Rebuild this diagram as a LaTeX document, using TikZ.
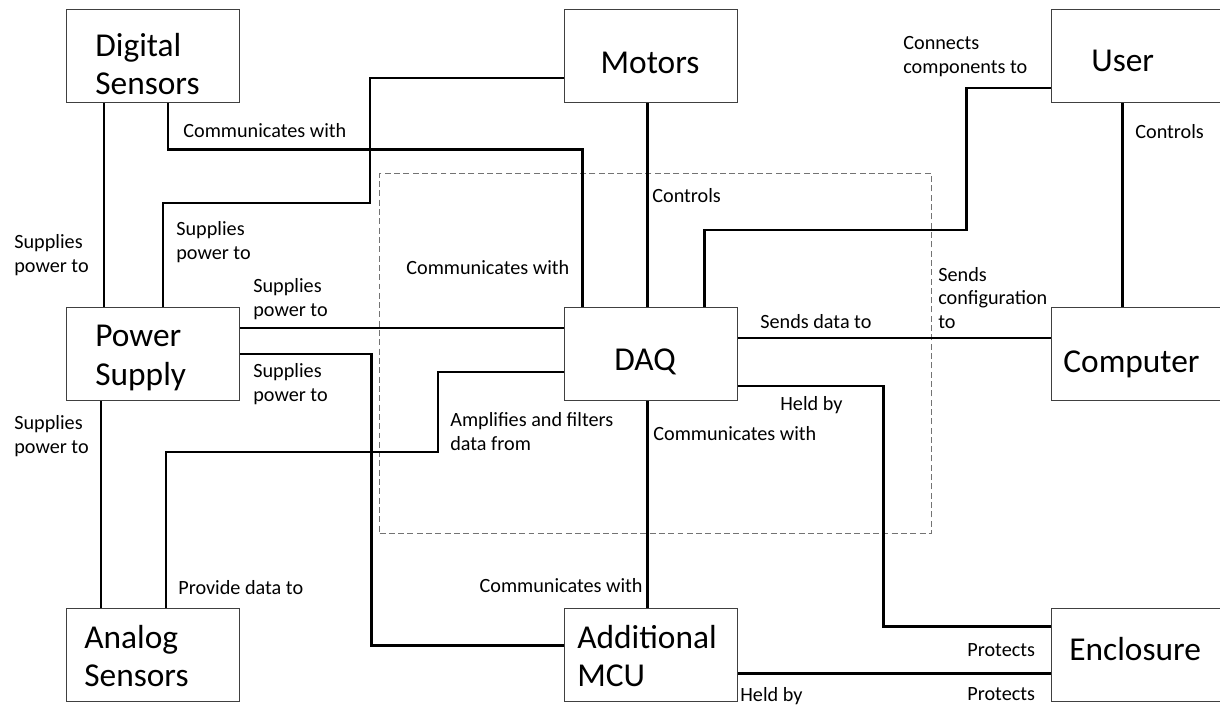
\documentclass[tikz,border=0pt]{standalone}
\usepackage{fontspec}
\setmainfont{Carlito}
\usetikzlibrary{calc}
\tikzset{
  box/.style={draw=black!75, line width=0.7pt, fill=white, anchor=north west,
    minimum width=3.46cm, minimum height=1.86cm, inner sep=0pt},
  boxtext/.style={font=\fontsize{19}{22}\selectfont, align=left, inner sep=0pt},
  lbl/.style={font=\fontsize{11.5}{13.6}\selectfont, align=left, inner sep=0pt, anchor=west},
  conn/.style={line width=1.7pt, black},
  group/.style={draw=black!55, line width=0.6pt, dash pattern=on 3.4pt off 1.9pt,
    anchor=north west, minimum width=11.04cm, minimum height=7.2cm, inner sep=0pt}
}
\begin{document}
\begin{tikzpicture}[x=0.02cm, y=-0.02cm]
\useasboundingbox (0,0) rectangle (1220,706);
\clip (0,0) rectangle (1220,706);
\fill[white] (0,0) rectangle (1220,706);

% dashed grouping frame around the DAQ
\node[group] (grp) at (379,173) {};

% component boxes
\node[box] (ds)   at (66,9)    {};
\node[box] (mot)  at (564,9)   {};
\node[box] (user) at (1051,9)  {};
\node[box] (ps)   at (66,307)  {};
\node[box] (daq)  at (564,307) {};
\node[box] (comp) at (1051,307){};
\node[box] (as)   at (66,608)  {};
\node[box] (mcu)  at (564,608) {};
\node[box] (enc)  at (1051,608){};

% box captions
\node[boxtext, anchor=west] (ds-t)   at (95,64)   {Digital\\Sensors};
\node[boxtext]              (mot-t)  at (650,63)  {Motors};
\node[boxtext, anchor=west] (user-t) at (1091,61) {User};
\node[boxtext, anchor=west] (ps-t)   at (95,358)  {Power\\Supply};
\node[boxtext]              (daq-t)  at (645,362) {DAQ};
\node[boxtext, anchor=west] (comp-t) at (1063,364){Computer};
\node[boxtext, anchor=west] (as-t)   at (84,656)  {Analog\\Sensors};
\node[boxtext, anchor=west] (mcu-t)  at (577,656) {Additional\\MCU};
\node[boxtext, anchor=west] (enc-t)  at (1069,649){Enclosure};

% connectors
\draw[conn] ($(ds.south west)+(38,0)$) -- ($(ps.north west)+(38,0)$);
\draw[conn] ($(ds.south west)+(102,0)$) -- ++(0,46) -| ($(daq.north west)+(18,0)$);
\draw[conn] ($(ps.north west)+(97,0)$) -- ++(0,-104) -- ++(207,0) |- ($(mot.north west)+(0,69)$);
\draw[conn] ($(ps.north east)+(0,21)$) -- ($(daq.north west)+(0,21)$);
\draw[conn] ($(ps.north east)+(0,47)$) -- ++(131,0) |- ($(mcu.north west)+(0,37)$);
\draw[conn] ($(ps.south west)+(35,0)$) -- ($(as.north west)+(35,0)$);
\draw[conn] ($(as.north west)+(100,0)$) -- ++(0,-156) -- ++(272,0) |- ($(daq.north west)+(0,65)$);
\draw[conn] ($(mot.south west)+(83,0)$) -- ($(daq.north west)+(83,0)$);
\draw[conn] ($(daq.north west)+(140,0)$) -- ++(0,-77) -- ++(262,0) |- ($(user.north west)+(0,79)$);
\draw[conn] ($(user.south west)+(71,0)$) -- ($(comp.north west)+(71,0)$);
\draw[conn] ($(daq.north east)+(0,31)$) -- ($(comp.north west)+(0,31)$);
\draw[conn] ($(daq.north east)+(0,79)$) -- ++(145,0) |- ($(enc.north west)+(0,18)$);
\draw[conn] ($(daq.south west)+(83,0)$) -- ($(mcu.north west)+(83,0)$);
\draw[conn] ($(mcu.north east)+(0,65)$) -- ($(enc.north west)+(0,65)$);

% connector labels
\node[lbl] (l1)  at (14,255)  {Supplies\\power to};
\node[lbl] (l2)  at (176,242) {Supplies\\power to};
\node[lbl] (l3)  at (253,299) {Supplies\\power to};
\node[lbl] (l4)  at (253,384) {Supplies\\power to};
\node[lbl] (l5)  at (14,436)  {Supplies\\power to};
\node[lbl] (l6)  at (183,131) {Communicates with};
\node[lbl] (l7)  at (406,268) {Communicates with};
\node[lbl] (l8)  at (652,196) {Controls};
\node[lbl] (l9)  at (903,57)  {Connects\\components to};
\node[lbl] (l10) at (1135,132){Controls};
\node[lbl] (l11) at (938,298) {Sends\\configuration\\to};
\node[lbl] (l12) at (760,322) {Sends data to};
\node[lbl] (l13) at (450,432) {Amplifies and filters\\data from};
\node[lbl] (l14) at (780,405) {Held by};
\node[lbl] (l15) at (653,434) {Communicates with};
\node[lbl] (l16) at (178,588) {Provide data to};
\node[lbl, anchor=east] (l17) at (643,586) {Communicates with};
\node[lbl] (l18) at (967,650) {Protects};
\node[lbl] (l19) at (967,694) {Protects};
\node[lbl] (l20) at (740,696) {Held by};
\end{tikzpicture}
\end{document}
